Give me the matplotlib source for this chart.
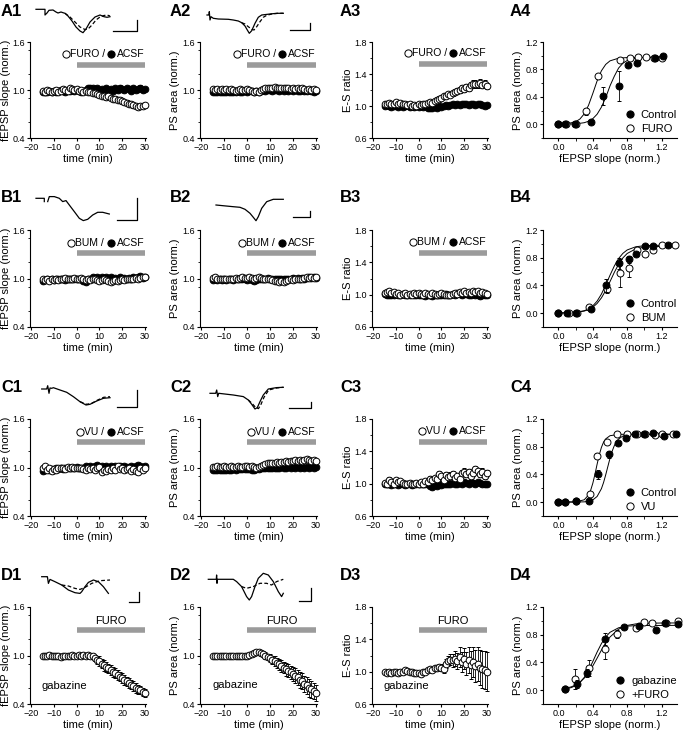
import matplotlib
matplotlib.use('Agg')
import numpy as np
import matplotlib.pyplot as plt
from matplotlib.ticker import MultipleLocator, FormatStrFormatter
from matplotlib.lines import Line2D
from matplotlib.transforms import offset_copy

plt.rcParams['font.family'] = ['Liberation Sans', 'DejaVu Sans']

# ---------------- data ----------------
time_min = list(range(-15, 31))

A1_furo = [0.99, 0.98, 1.00, 0.99, 0.97, 0.99, 1.00, 0.98, 0.99, 1.01, 1.00, 0.99, 1.02, 1.01, 1.00,
           1.01, 0.99, 1.00, 0.98, 0.99, 0.98, 0.97, 0.96, 0.96, 0.95, 0.94, 0.93, 0.93, 0.91, 0.92, 0.90,
           0.89, 0.89, 0.87, 0.88, 0.86, 0.85, 0.84, 0.83, 0.82, 0.81, 0.80, 0.79, 0.80, 0.80, 0.81]
A1_furo_err = [0.02, 0.01, 0.02, 0.02, 0.01, 0.02, 0.02, 0.01, 0.02, 0.02, 0.01, 0.02, 0.02, 0.01, 0.02,
               0.02, 0.02, 0.02, 0.02, 0.02, 0.02, 0.02, 0.02, 0.03, 0.02, 0.03, 0.02, 0.03, 0.03, 0.02, 0.03,
               0.03, 0.03, 0.02, 0.03, 0.03, 0.03, 0.03, 0.03, 0.03, 0.03, 0.03, 0.03, 0.03, 0.03, 0.03]
A1_acsf = [0.97, 0.98, 0.97, 0.99, 0.98, 0.99, 0.98, 0.99, 1.00, 0.99, 0.98, 1.00, 0.99, 1.00, 0.99,
           1.00, 0.99, 0.98, 0.99, 1.00, 1.02, 1.03, 1.02, 1.01, 1.02, 1.00, 1.01, 0.99, 1.02, 1.00, 1.01,
           0.99, 1.02, 1.00, 1.03, 1.01, 1.00, 1.02, 1.01, 0.99, 1.02, 1.00, 1.01, 1.03, 1.00, 1.01]
A1_acsf_err = [0.01, 0.01, 0.01, 0.01, 0.01, 0.01, 0.01, 0.01, 0.01, 0.01, 0.01, 0.01, 0.01, 0.01, 0.01,
               0.02, 0.02, 0.02, 0.02, 0.02, 0.02, 0.03, 0.02, 0.02, 0.02, 0.02, 0.02, 0.02, 0.03, 0.02, 0.02,
               0.02, 0.02, 0.02, 0.03, 0.02, 0.02, 0.02, 0.02, 0.02, 0.03, 0.02, 0.02, 0.03, 0.02, 0.02]

A2_furo = [1.01, 1.00, 1.01, 1.00, 1.01, 1.00, 1.01, 1.00, 1.01, 1.00, 0.99, 1.00, 1.01, 1.00, 1.00,
           1.01, 1.00, 0.99, 0.98, 0.99, 0.98, 1.00, 1.01, 1.02, 1.03, 1.02, 1.03, 1.04, 1.03, 1.02, 1.03,
           1.02, 1.03, 1.02, 1.01, 1.02, 1.01, 1.02, 1.01, 1.02, 1.01, 1.00, 1.01, 1.00, 1.01, 1.00]
A2_acsf = [0.98, 0.97, 0.98, 0.98, 0.97, 0.98, 0.98, 0.97, 0.98, 0.98, 0.98, 0.99, 0.98, 0.98, 0.99,
           0.98, 0.99, 0.99, 0.98, 0.99, 0.98, 0.99, 1.00, 0.99, 1.00, 1.00, 0.99, 1.00, 1.00, 0.99, 1.00,
           0.99, 1.00, 0.99, 1.00, 0.99, 1.00, 0.99, 0.99, 1.00, 0.99, 0.99, 1.00, 0.99, 0.98, 0.99]

A3_furo = [1.02, 1.03, 1.04, 1.02, 1.03, 1.05, 1.03, 1.04, 1.02, 1.03, 1.01, 1.02, 1.00, 1.01, 1.00,
           1.02, 1.01, 1.03, 1.02, 1.04, 1.05, 1.04, 1.06, 1.08, 1.09, 1.10, 1.12, 1.13, 1.15, 1.14, 1.16,
           1.18, 1.19, 1.20, 1.22, 1.21, 1.24, 1.23, 1.26, 1.27, 1.28, 1.27, 1.29, 1.26, 1.28, 1.25]
A3_furo_err = [0.02, 0.02, 0.02, 0.02, 0.02, 0.02, 0.02, 0.02, 0.02, 0.02, 0.02, 0.02, 0.02, 0.02, 0.02,
               0.02, 0.02, 0.02, 0.02, 0.02, 0.02, 0.02, 0.03, 0.03, 0.03, 0.03, 0.03, 0.03, 0.03, 0.03, 0.03,
               0.03, 0.03, 0.04, 0.04, 0.04, 0.04, 0.04, 0.04, 0.05, 0.05, 0.04, 0.05, 0.04, 0.05, 0.04]
A3_acsf = [1.00, 1.01, 1.00, 0.99, 1.00, 1.01, 0.99, 1.00, 0.99, 1.00, 1.01, 0.99, 1.00, 0.99, 1.00,
           0.99, 1.00, 0.99, 1.00, 0.98, 0.97, 0.98, 0.99, 0.98, 1.00, 0.99, 1.00, 1.01, 1.00, 1.01, 1.02,
           1.01, 1.02, 1.01, 1.03, 1.02, 1.02, 1.01, 1.03, 1.02, 1.01, 1.02, 1.03, 1.01, 1.00, 1.01]

B1_bum = [0.99, 0.98, 0.99, 0.97, 0.99, 0.98, 0.99, 0.98, 1.00, 0.99, 1.01, 1.00, 0.99, 1.00, 1.01,
          1.00, 0.99, 1.01, 1.00, 0.98, 0.99, 0.98, 1.00, 0.99, 0.98, 0.97, 0.98, 0.99, 0.98, 0.97, 0.96,
          0.97, 0.98, 0.97, 0.98, 0.99, 0.98, 0.99, 1.00, 0.99, 1.00, 1.01, 1.00, 1.01, 1.02, 1.02]
B1_acsf = [0.97, 0.98, 0.99, 0.98, 0.99, 0.98, 1.00, 0.99, 1.00, 0.99, 0.98, 1.00, 0.99, 1.00, 0.99,
           0.99, 1.00, 0.99, 0.97, 0.96, 0.99, 1.00, 1.02, 1.01, 1.02, 1.01, 1.02, 1.01, 1.02, 1.01, 1.02,
           1.00, 1.01, 1.00, 1.02, 1.00, 1.01, 1.00, 1.01, 1.00, 1.02, 1.01, 1.02, 1.03, 1.01, 1.02]

B2_bum = [1.01, 1.02, 1.00, 0.99, 1.00, 0.99, 0.99, 1.00, 0.99, 1.00, 1.01, 1.00, 1.01, 1.02, 1.01,
          1.01, 1.02, 1.01, 1.00, 1.01, 1.02, 1.01, 1.00, 0.99, 1.00, 0.99, 0.98, 0.97, 0.97, 0.96, 0.97,
          0.96, 0.97, 0.98, 0.99, 0.98, 0.99, 1.00, 0.99, 1.00, 1.01, 1.02, 1.01, 1.02, 1.01, 1.02]
B2_acsf = [0.98, 0.99, 0.98, 0.99, 0.98, 0.99, 0.98, 0.99, 0.99, 0.98, 0.99, 1.00, 0.99, 1.00, 0.99,
           0.98, 0.99, 0.98, 0.97, 0.98, 0.99, 1.00, 0.99, 1.00, 1.01, 1.00, 0.99, 1.00, 0.99, 1.00, 0.99,
           1.00, 1.00, 0.99, 1.00, 1.01, 1.00, 1.01, 1.00, 1.01, 1.00, 1.01, 1.02, 1.01, 1.02, 1.01]

B3_bum = [1.02, 1.03, 1.04, 1.02, 1.03, 1.01, 1.02, 1.00, 1.01, 1.02, 1.00, 1.01, 1.00, 1.02, 1.01,
          1.02, 1.01, 1.00, 1.02, 1.01, 1.00, 1.02, 1.01, 1.00, 1.01, 1.02, 1.01, 1.00, 0.99, 1.00, 1.01,
          1.02, 1.01, 1.03, 1.02, 1.04, 1.02, 1.03, 1.02, 1.04, 1.03, 1.04, 1.02, 1.03, 1.02, 1.01]
B3_acsf = [1.01, 0.99, 1.00, 0.99, 1.00, 1.01, 1.00, 0.99, 1.01, 1.00, 1.00, 0.99, 1.01, 1.00, 0.99,
           1.00, 0.99, 1.00, 0.98, 0.99, 1.00, 0.98, 0.99, 1.00, 0.99, 1.00, 0.99, 1.01, 1.00, 0.99, 1.01,
           1.00, 1.02, 1.01, 1.00, 1.02, 1.01, 1.00, 0.99, 1.01, 1.00, 0.99, 0.98, 1.00, 0.99, 1.00]

C1_vu = [0.99, 1.02, 0.97, 0.99, 0.96, 0.98, 0.97, 0.99, 1.00, 0.99, 0.98, 1.01, 1.00, 1.01, 0.99,
         1.00, 0.99, 1.00, 0.98, 0.97, 0.99, 0.98, 1.00, 0.97, 0.99, 1.01, 0.95, 0.97, 0.96, 0.98, 0.97,
         0.99, 0.97, 1.02, 0.98, 0.99, 0.97, 0.98, 1.00, 0.96, 0.98, 0.96, 0.95, 1.00, 0.97, 0.99]
C1_vu_err = [0.02, 0.02, 0.02, 0.02, 0.02, 0.02, 0.02, 0.02, 0.02, 0.02, 0.02, 0.02, 0.02, 0.02, 0.02,
             0.02, 0.02, 0.02, 0.02, 0.02, 0.03, 0.02, 0.03, 0.02, 0.03, 0.03, 0.03, 0.02, 0.03, 0.03, 0.02,
             0.03, 0.03, 0.03, 0.02, 0.03, 0.03, 0.03, 0.02, 0.03, 0.03, 0.03, 0.03, 0.03, 0.03, 0.03]
C1_acsf = [0.96, 0.97, 0.98, 0.97, 0.98, 0.97, 0.99, 0.98, 0.99, 0.98, 1.00, 0.99, 1.00, 0.99, 1.00,
           1.01, 1.00, 0.99, 1.00, 1.02, 1.01, 1.02, 1.01, 1.02, 1.03, 1.01, 1.02, 1.01, 1.02, 1.00, 1.02,
           1.01, 1.02, 1.01, 1.02, 1.01, 1.02, 1.01, 1.00, 1.02, 1.01, 1.02, 1.03, 1.02, 1.01, 1.02]

C2_vu = [1.01, 1.01, 1.02, 1.01, 1.01, 1.02, 1.01, 1.01, 1.02, 1.01, 1.01, 1.02, 1.01, 1.01, 1.02,
         1.02, 1.01, 1.02, 1.01, 1.00, 1.01, 1.02, 1.03, 1.04, 1.05, 1.05, 1.06, 1.06, 1.07, 1.06, 1.07,
         1.07, 1.08, 1.07, 1.08, 1.08, 1.09, 1.08, 1.09, 1.08, 1.09, 1.10, 1.09, 1.08, 1.09, 1.08]
C2_acsf = [0.97, 0.97, 0.97, 0.97, 0.97, 0.97, 0.97, 0.97, 0.97, 0.98, 0.97, 0.98, 0.98, 0.98, 0.98,
           0.98, 0.98, 0.97, 0.97, 0.98, 0.98, 0.99, 0.99, 0.99, 1.00, 0.99, 1.00, 1.00, 1.00, 1.00, 1.01,
           1.00, 1.00, 1.01, 1.00, 1.01, 1.00, 1.01, 1.00, 1.01, 1.00, 1.01, 1.00, 1.01, 1.00, 1.01]

C3_vu = [1.01, 0.99, 1.05, 1.02, 1.00, 1.04, 1.02, 1.03, 1.01, 1.00, 0.99, 1.01, 1.00, 0.99, 1.01,
         1.00, 1.02, 0.99, 1.03, 1.02, 1.06, 1.05, 1.07, 1.06, 1.12, 1.10, 1.05, 1.11, 1.08, 1.10, 1.12,
         1.07, 1.09, 1.06, 1.13, 1.15, 1.12, 1.14, 1.10, 1.13, 1.18, 1.16, 1.12, 1.15, 1.10, 1.13]
C3_vu_err = [0.02, 0.02, 0.03, 0.02, 0.02, 0.03, 0.02, 0.02, 0.02, 0.02, 0.02, 0.02, 0.02, 0.02, 0.02,
             0.02, 0.02, 0.02, 0.03, 0.02, 0.03, 0.03, 0.03, 0.03, 0.04, 0.03, 0.03, 0.04, 0.03, 0.04, 0.04,
             0.03, 0.04, 0.03, 0.04, 0.04, 0.04, 0.04, 0.03, 0.04, 0.04, 0.04, 0.04, 0.04, 0.04, 0.04]
C3_acsf = [1.00, 1.00, 0.99, 0.98, 1.00, 1.01, 0.98, 0.99, 1.00, 0.98, 0.99, 1.00, 0.98, 0.99, 1.00,
           0.99, 1.00, 0.99, 1.00, 0.99, 0.97, 0.96, 0.98, 0.97, 0.99, 0.98, 0.99, 1.00, 0.99, 1.00, 1.01,
           1.00, 0.99, 1.01, 1.00, 1.02, 1.01, 1.00, 1.02, 1.01, 1.00, 1.02, 1.01, 0.99, 1.00, 1.00]

D1_furo = [1.00, 0.99, 1.00, 1.01, 1.00, 0.99, 1.00, 0.99, 0.98, 1.00, 0.99, 1.00, 1.00, 1.01, 1.00,
           1.00, 1.01, 1.00, 1.01, 1.00, 1.01, 1.00, 0.99, 0.97, 0.95, 0.93, 0.90, 0.88, 0.86, 0.84, 0.82,
           0.80, 0.78, 0.76, 0.74, 0.72, 0.70, 0.68, 0.66, 0.64, 0.62, 0.60, 0.58, 0.57, 0.55, 0.54]
D1_err = [0.01, 0.01, 0.01, 0.01, 0.01, 0.01, 0.01, 0.01, 0.01, 0.01, 0.01, 0.01, 0.01, 0.01, 0.01,
          0.01, 0.01, 0.02, 0.02, 0.02, 0.02, 0.03, 0.03, 0.04, 0.05, 0.06, 0.06, 0.07, 0.06, 0.06, 0.06,
          0.06, 0.06, 0.06, 0.06, 0.06, 0.06, 0.06, 0.06, 0.06, 0.06, 0.06, 0.06, 0.05, 0.05, 0.05]
D2_furo = [1.00, 0.99, 1.00, 0.99, 1.00, 1.00, 0.99, 1.00, 1.00, 1.00, 0.99, 1.00, 1.00, 1.00, 1.00,
           1.00, 1.01, 1.02, 1.03, 1.04, 1.04, 1.03, 1.02, 1.00, 0.98, 0.97, 0.95, 0.93, 0.91, 0.89, 0.87,
           0.85, 0.83, 0.81, 0.79, 0.77, 0.75, 0.73, 0.70, 0.68, 0.65, 0.63, 0.60, 0.58, 0.56, 0.54]
D2_err = [0.01, 0.01, 0.01, 0.01, 0.01, 0.01, 0.01, 0.01, 0.01, 0.01, 0.01, 0.01, 0.01, 0.01, 0.01,
          0.01, 0.01, 0.01, 0.02, 0.02, 0.02, 0.03, 0.03, 0.04, 0.04, 0.05, 0.05, 0.06, 0.06, 0.07, 0.07,
          0.07, 0.08, 0.08, 0.08, 0.09, 0.09, 0.09, 0.10, 0.10, 0.10, 0.11, 0.11, 0.11, 0.10, 0.10]
D3_furo = [1.00, 0.98, 0.99, 0.98, 1.00, 0.99, 0.98, 0.99, 1.00, 1.02, 1.01, 1.00, 0.99, 0.98, 0.98,
           0.98, 0.97, 0.99, 1.00, 1.02, 1.03, 1.02, 1.04, 1.05, 1.06, 1.05, 1.03, 1.10, 1.13, 1.15, 1.14,
           1.16, 1.13, 1.18, 1.12, 1.16, 1.10, 1.14, 1.08, 1.12, 1.07, 1.10, 1.05, 1.03, 1.02, 1.00]
D3_err = [0.01, 0.01, 0.01, 0.01, 0.01, 0.01, 0.01, 0.01, 0.01, 0.01, 0.01, 0.01, 0.01, 0.01, 0.01,
          0.01, 0.01, 0.02, 0.02, 0.02, 0.02, 0.03, 0.03, 0.03, 0.04, 0.04, 0.05, 0.06, 0.06, 0.07, 0.08,
          0.09, 0.10, 0.12, 0.12, 0.13, 0.14, 0.16, 0.17, 0.18, 0.20, 0.21, 0.22, 0.23, 0.24, 0.24]

# input-output panels
A4_ctrl_x = [0.0, 0.08, 0.19, 0.38, 0.52, 0.71, 0.81, 0.91, 1.12, 1.22]
A4_ctrl_y = [0.0, 0.0, 0.01, 0.04, 0.41, 0.56, 0.87, 0.90, 0.97, 0.99]
A4_ctrl_err = [0, 0, 0, 0.01, 0.13, 0.22, 0.03, 0.02, 0.01, 0.01]
A4_furo_x = [0.0, 0.09, 0.2, 0.32, 0.46, 0.72, 0.83, 0.93, 1.02, 1.11, 1.21]
A4_furo_y = [0.0, 0.01, 0.01, 0.19, 0.70, 0.94, 0.96, 0.98, 0.98, 0.97, 0.97]
A4_furo_err = [0, 0, 0, 0.05, 0.04, 0.02, 0.01, 0.01, 0.01, 0.01, 0.01]
A4_fit_furo_x = [0.0, 0.1, 0.2, 0.25, 0.3, 0.35, 0.4, 0.45, 0.5, 0.55, 0.6, 0.7, 0.8, 1.0, 1.22]
A4_fit_furo_y = [0.002, 0.008, 0.037, 0.077, 0.152, 0.277, 0.45, 0.633, 0.78, 0.873, 0.925, 0.964, 0.973, 0.975, 0.975]
A4_fit_ctrl_x = [0.0, 0.2, 0.3, 0.35, 0.4, 0.45, 0.5, 0.55, 0.6, 0.65, 0.7, 0.75, 0.8, 0.9, 1.0, 1.22]
A4_fit_ctrl_y = [0.0, 0.006, 0.023, 0.044, 0.082, 0.147, 0.25, 0.39, 0.56, 0.70, 0.82, 0.89, 0.93, 0.966, 0.976, 0.98]

B4_ctrl_x = [0.0, 0.1, 0.2, 0.38, 0.55, 0.71, 0.82, 0.9, 1.01, 1.1, 1.28]
B4_ctrl_y = [0.0, 0.0, 0.0, 0.06, 0.40, 0.72, 0.78, 0.86, 0.97, 0.97, 0.98]
B4_ctrl_err = [0, 0, 0, 0.01, 0.10, 0.08, 0.05, 0.02, 0.02, 0.02, 0.01]
B4_bum_x = [0.0, 0.12, 0.21, 0.36, 0.56, 0.72, 0.82, 0.92, 1.01, 1.1, 1.21, 1.36]
B4_bum_y = [0.0, 0.0, 0.0, 0.09, 0.35, 0.58, 0.65, 0.91, 0.86, 0.91, 0.99, 0.98]
B4_bum_err = [0, 0, 0, 0.01, 0.06, 0.20, 0.13, 0.02, 0.04, 0.02, 0.01, 0.01]
B4_fit_ctrl_x = [0.0, 0.2, 0.3, 0.35, 0.4, 0.45, 0.5, 0.55, 0.6, 0.65, 0.7, 0.75, 0.8, 0.9, 1.0, 1.1, 1.3]
B4_fit_ctrl_y = [0.001, 0.011, 0.035, 0.062, 0.105, 0.174, 0.275, 0.405, 0.547, 0.68, 0.788, 0.863, 0.912, 0.958, 0.973, 0.978, 0.98]
B4_fit_bum_x = [0.0, 0.2, 0.3, 0.35, 0.4, 0.45, 0.5, 0.55, 0.6, 0.65, 0.7, 0.75, 0.8, 0.9, 1.0, 1.1, 1.35]
B4_fit_bum_y = [0.001, 0.010, 0.030, 0.051, 0.085, 0.14, 0.22, 0.327, 0.455, 0.588, 0.705, 0.797, 0.861, 0.928, 0.952, 0.96, 0.965]

C4_ctrl_x = [0.0, 0.08, 0.2, 0.35, 0.46, 0.59, 0.69, 0.79, 0.89, 0.99, 1.1, 1.23, 1.37]
C4_ctrl_y = [0.0, 0.0, 0.01, 0.02, 0.40, 0.69, 0.86, 0.93, 0.98, 0.98, 1.0, 0.96, 0.98]
C4_ctrl_err = [0, 0, 0, 0.01, 0.07, 0.05, 0.02, 0.02, 0.01, 0.01, 0.01, 0.01, 0.01]
C4_vu_x = [0.0, 0.08, 0.2, 0.37, 0.45, 0.57, 0.68, 0.8, 0.92, 1.01, 1.12, 1.21, 1.33]
C4_vu_y = [0.0, 0.0, 0.01, 0.12, 0.67, 0.87, 0.98, 0.98, 0.98, 0.98, 0.97, 0.98, 0.98]
C4_vu_err = [0, 0, 0, 0.01, 0.04, 0.02, 0.01, 0.01, 0.01, 0.01, 0.01, 0.01, 0.01]
C4_fit_vu_x = [0.0, 0.2, 0.3, 0.35, 0.375, 0.4, 0.425, 0.45, 0.475, 0.5, 0.525, 0.55, 0.6, 0.7, 0.8, 1.4]
C4_fit_vu_y = [0.0, 0.003, 0.034, 0.103, 0.172, 0.273, 0.403, 0.548, 0.683, 0.79, 0.866, 0.913, 0.959, 0.978, 0.98, 0.98]
C4_fit_ctrl_x = [0.0, 0.3, 0.35, 0.4, 0.45, 0.5, 0.525, 0.55, 0.575, 0.6, 0.625, 0.65, 0.675, 0.7, 0.75, 0.8, 0.9, 1.4]
C4_fit_ctrl_y = [0.0, 0.004, 0.012, 0.032, 0.082, 0.194, 0.283, 0.394, 0.514, 0.633, 0.735, 0.815, 0.873, 0.912, 0.954, 0.97, 0.978, 0.98]

D4_gab_x = [0.08, 0.21, 0.33, 0.54, 0.76, 0.94, 1.14, 1.24, 1.39]
D4_gab_y = [0.01, 0.09, 0.25, 0.74, 0.91, 0.92, 0.87, 0.97, 0.95]
D4_gab_err = [0.01, 0.06, 0.06, 0.09, 0.02, 0.02, 0.01, 0.02, 0.03]
D4_furo_x = [0.08, 0.19, 0.35, 0.54, 0.68, 0.90, 0.99, 1.09, 1.25, 1.39]
D4_furo_y = [0.01, 0.16, 0.32, 0.60, 0.81, 0.90, 0.98, 0.97, 0.97, 1.00]
D4_furo_err = [0.0, 0.14, 0.12, 0.15, 0.06, 0.02, 0.02, 0.02, 0.02, 0.02]
D4_fit_gab_x = [0.08, 0.15, 0.2, 0.25, 0.3, 0.35, 0.4, 0.45, 0.5, 0.55, 0.6, 0.7, 0.8, 0.9, 1.0, 1.4]
D4_fit_gab_y = [0.017, 0.037, 0.065, 0.111, 0.183, 0.285, 0.413, 0.55, 0.672, 0.768, 0.835, 0.90, 0.924, 0.931, 0.933, 0.935]
D4_fit_furo_x = [0.08, 0.15, 0.2, 0.25, 0.3, 0.35, 0.4, 0.45, 0.5, 0.55, 0.6, 0.7, 0.8, 0.9, 1.0, 1.2, 1.4]
D4_fit_furo_y = [0.025, 0.048, 0.075, 0.115, 0.174, 0.252, 0.35, 0.462, 0.577, 0.683, 0.767, 0.88, 0.934, 0.956, 0.964, 0.969, 0.97]

# example traces (local px, y downward)
trA1_sol_x = [0, 9, 9, 11, 13, 17, 20, 22, 25, 27, 29, 32, 36, 40, 44, 47, 50, 54, 59, 64, 68, 71, 74]
trA1_sol_y = [0, 0, 5.7, 3.7, 1, 0.7, 2.7, 3.7, 2.7, 3.4, 4, 6.7, 11.7, 17.7, 21.7, 23.4, 19.7, 12.7, 7.7, 5.7, 7.4, 8, 7.4]
trA1_das_x = [29, 34, 39, 44, 49, 52, 56, 60, 64, 68, 71, 74]
trA1_das_y = [4, 7.7, 12.7, 17.7, 20.2, 19.7, 15.7, 10.7, 7.7, 6.2, 5.7, 6.7]
trA2_sol_x = [0, 2, 2.3, 3, 4, 6.3, 11.3, 21.3, 26.3, 31.3, 34.7, 38, 40.3, 42.3, 44.7, 48, 51.3, 54.7, 63, 69.7, 76.3]
trA2_sol_y = [0, 0, -3.3, 5, 1.7, 3.3, 4, 4.3, 5, 6, 7.7, 11, 15, 18.3, 15.7, 8.3, 2.3, 0, -1, -1.7, -1.7]
trA2_das_x = [34.7, 38, 41.3, 44.7, 47, 49.7, 53, 56.3, 59.7, 64.7, 71.3, 76.3]
trA2_das_y = [7.7, 9, 11.7, 14.3, 15, 11.7, 6.7, 2.3, 0.3, -1, -1.7, -1.7]
trB1_sol_x = [0, 8.3, 8.3, None, 11.7, 13.3, 18.3, 23.3, 26.7, 30, 33.3, 38.3, 43.3, 47.3, 51.7, 56.7, 61.7, 66.7, 73.3]
trB1_sol_y = [0, 0, 3.3, None, 3.3, -1.7, -1.7, 0, 3.3, 2.3, 6.7, 13.3, 20, 22.3, 21, 16.7, 14, 14, 15.7]
trB2_sol_x = [0, 8, 17.3, 24, 29, 34, 37.3, 40, 42.3, 45.7, 50.7, 57.3, 67.3]
trB2_sol_y = [0, 0.8, 1.7, 2.3, 4.3, 8.3, 12.3, 15.7, 11.7, 3.3, -3.3, -5.7, -5.7]
trC1_sol_x = [0, 5, 6, 7.3, 8.3, 10, 11.7, 18.3, 25, 31.7, 38.3, 44.3, 48.3, 55, 61.7, 68.3]
trC1_sol_y = [0, 0, -3.3, 4.3, -1, -0.7, -1.3, 1, 3.3, 7.7, 12.7, 16, 15.3, 12, 9.3, 8.7]
trC1_das_x = [38.3, 45, 50, 56, 62, 68.3]
trC1_das_y = [12.7, 15.3, 14.3, 11, 8.3, 7.7]
trC2_sol_x = [0, 5.7, 6.7, 7.7, 8.7, 23.3, 33.3, 38.3, 41.7, 45, 47.3, 50, 53.3, 58.3, 66.7, 73.3]
trC2_sol_y = [0, 0, -3.3, 3.3, 0, 1.7, 3.3, 6.7, 11, 15.7, 14.3, 8.3, 1.7, -4.3, -5.7, -6]
trC2_das_x = [38.3, 42, 45.5, 48.5, 51, 54, 58.7, 66.7, 73.3]
trC2_das_y = [6.7, 10, 14, 15.3, 11, 4, -3.3, -5.3, -6]
trD1_sol_x = [0, 5, 5.7, 6.7, 8.3, 13.3, 20, 26.7, 33.3, 38.3, 40, 43.3, 46.7, 51.7, 56.7, 61.7, 66.7]
trD1_sol_y = [0, 0, 0, 6.7, 2.7, 5, 8.3, 13.3, 16, 16.7, 15, 10, 5.7, 3.3, 5, 10, 16.7]
trD1_das_x = [20, 26.7, 33.3, 38.3, 43.3, 50, 58.3, 68.3]
trD1_das_y = [8.3, 9.3, 11.7, 12.7, 10.7, 6.7, 4, 3.3]
trD2_sol_x = [0, 8, 8.3, 8.7, 9, 25, 28.3, 33.3, 38.3, 41, 43.3, 46.7, 50, 55, 60, 65, 70, 73.3, 75]
trD2_sol_y = [0, 0, -4.3, 4, 0, 0, 2.3, 7.3, 17.3, 20.7, 17.3, 7.3, -1, -6, -4.3, 2.3, 12.3, 17.3, 14]
trD2_das_x = [33.3, 38.3, 45, 51.7, 58.3, 63.3, 68.3, 75]
trD2_das_y = [7.3, 9, 7.3, 4, 4, 5.7, 2.3, 0]

# ---------------- layout ----------------
W, H = 683, 733
fig = plt.figure(figsize=(W / 100, H / 100), dpi=100)

cols = [(30, 146), (200, 317), (372, 488), (543, 677)]
rows = [(42, 138), (230, 327), (419, 516), (607, 704)]
ylabel_x = [-0.165, -0.172, -0.165, -0.15]
BAR = '#9b9b9b'
PX = 0.72  # points per pixel at dpi 100
LEG_FS = 7.5


def make_ax(r, c):
    x0, x1 = cols[c]
    y0, y1 = rows[r]
    ax = fig.add_axes([x0 / W, 1 - y1 / H, (x1 - x0) / W, (y1 - y0) / H])
    for s in ['top', 'right']:
        ax.spines[s].set_visible(False)
    for s in ['left', 'bottom']:
        ax.spines[s].set_linewidth(0.8)
    ax.tick_params(which='major', direction='out', length=2.5, width=0.8, labelsize=6.5, pad=1.2)
    ax.tick_params(which='minor', direction='out', length=1.8, width=0.6)
    ax.patch.set_alpha(0)
    return ax


def set_ylab(ax, c, text):
    ax.set_ylabel(text, fontsize=8)
    ax.yaxis.set_label_coords(ylabel_x[c], 0.5)


def time_ax(ax, kind, c):
    ax.set_xlim(-20.5, 30.5)
    ax.set_xticks([-20, -10, 0, 10, 20, 30])
    if kind == 'es':
        ax.set_ylim(0.6, 1.8)
        ax.set_yticks([0.6, 1.0, 1.4, 1.8])
        ax.yaxis.set_minor_locator(MultipleLocator(0.2))
        set_ylab(ax, c, 'E-S ratio')
    else:
        ax.set_ylim(0.4, 1.6)
        ax.set_yticks([0.4, 1.0, 1.6])
        ax.yaxis.set_minor_locator(MultipleLocator(0.3))
        set_ylab(ax, c, 'fEPSP slope (norm.)' if kind == 'slope' else 'PS area (norm.)')
    ax.yaxis.set_major_formatter(FormatStrFormatter('%.1f'))
    ax.set_xlabel('time (min)', fontsize=8, labelpad=1)


def series(ax, y, err=None, filled=False):
    ax.errorbar(time_min, y, yerr=err, fmt='o', ms=4.8, mfc='k' if filled else 'white',
                mec='k', mew=0.7, ecolor='k', elinewidth=0.6, capsize=1.2, capthick=0.6,
                zorder=3 if filled else 4, clip_on=False)


def io_ax(ax, c):
    ax.set_xlim(-0.18, 1.38)
    ax.set_ylim(-0.2, 1.2)
    ax.set_xticks([0.0, 0.4, 0.8, 1.2])
    ax.set_yticks([0.0, 0.4, 0.8, 1.2])
    ax.xaxis.set_minor_locator(MultipleLocator(0.2))
    ax.yaxis.set_minor_locator(MultipleLocator(0.2))
    ax.xaxis.set_major_formatter(FormatStrFormatter('%.1f'))
    ax.yaxis.set_major_formatter(FormatStrFormatter('%.1f'))
    ax.set_xlabel('fEPSP slope (norm.)', fontsize=8, labelpad=1)
    set_ylab(ax, c, 'PS area (norm.)')


def io_pts(ax, x, y, err, filled):
    ax.errorbar(x, y, yerr=err, fmt='o', ms=5, mfc='k' if filled else 'white', mec='k', mew=0.7,
                ecolor='k', elinewidth=0.6, capsize=1.5, capthick=0.6, zorder=4 if filled else 3,
                clip_on=False)


def io_legend(ax, labels):
    h = [Line2D([], [], ls='none', marker='o', ms=5.2, mfc='k', mec='k', mew=0.7),
         Line2D([], [], ls='none', marker='o', ms=5.2, mfc='white', mec='k', mew=0.7)]
    ax.legend(h, labels, loc='lower right', bbox_to_anchor=(1.0, 0.04), frameon=False, fontsize=8,
              handlelength=0.8, handletextpad=0.6, labelspacing=0.35, borderpad=0, borderaxespad=0)


def drug_bar(ax, ybar, ytxt, drug, paired, open_off=79):
    ax.plot([0, 30], [ybar, ybar], color=BAR, lw=4, solid_capstyle='butt', zorder=2)
    if not paired:
        ax.text(15, ytxt, drug, ha='center', va='center', fontsize=8)
        return
    # "(open) DRUG / (filled) ACSF", right-aligned at the end of the bar
    ax.text(30, ytxt, 'ACSF', ha='right', va='center', fontsize=LEG_FS)
    t_f = offset_copy(ax.transData, fig=fig, x=-34 * PX, units='points')
    ax.plot([30], [ytxt], 'o', ms=5.2, mfc='k', mec='k', mew=0.7, transform=t_f, clip_on=False)
    t_o = offset_copy(ax.transData, fig=fig, x=-open_off * PX, units='points')
    ax.plot([30], [ytxt], 'o', ms=5.2, mfc='white', mec='k', mew=0.7, transform=t_o, clip_on=False)
    t_txt = offset_copy(ax.transData, fig=fig, x=-(open_off - 4.5) * PX, units='points')
    ax.text(30, ytxt, drug + ' /', ha='left', va='center', fontsize=LEG_FS, transform=t_txt)


# Row A
ax = make_ax(0, 0); time_ax(ax, 'slope', 0)
series(ax, A1_acsf, A1_acsf_err, True); series(ax, A1_furo, A1_furo_err)
drug_bar(ax, 1.31, 1.45, 'FURO', True, 79)
ax = make_ax(0, 1); time_ax(ax, 'area', 1)
series(ax, A2_acsf, None, True); series(ax, A2_furo)
drug_bar(ax, 1.31, 1.45, 'FURO', True, 79)
ax = make_ax(0, 2); time_ax(ax, 'es', 2)
series(ax, A3_acsf, None, True); series(ax, A3_furo, A3_furo_err)
drug_bar(ax, 1.52, 1.66, 'FURO', True, 79)
ax = make_ax(0, 3); io_ax(ax, 3)
ax.plot(A4_fit_furo_x, A4_fit_furo_y, color='k', lw=0.7)
ax.plot(A4_fit_ctrl_x, A4_fit_ctrl_y, color='k', lw=0.7)
io_pts(ax, A4_furo_x, A4_furo_y, A4_furo_err, False)
io_pts(ax, A4_ctrl_x, A4_ctrl_y, A4_ctrl_err, True)
io_legend(ax, ['Control', 'FURO'])

# Row B
ax = make_ax(1, 0); time_ax(ax, 'slope', 0)
series(ax, B1_acsf, None, True); series(ax, B1_bum)
drug_bar(ax, 1.31, 1.44, 'BUM', True, 74)
ax = make_ax(1, 1); time_ax(ax, 'area', 1)
series(ax, B2_acsf, None, True); series(ax, B2_bum)
drug_bar(ax, 1.31, 1.44, 'BUM', True, 74)
ax = make_ax(1, 2); time_ax(ax, 'es', 2)
series(ax, B3_acsf, None, True); series(ax, B3_bum)
drug_bar(ax, 1.52, 1.65, 'BUM', True, 74)
ax = make_ax(1, 3); io_ax(ax, 3)
ax.plot(B4_fit_bum_x, B4_fit_bum_y, color='k', lw=0.7)
ax.plot(B4_fit_ctrl_x, B4_fit_ctrl_y, color='k', lw=0.7)
io_pts(ax, B4_bum_x, B4_bum_y, B4_bum_err, False)
io_pts(ax, B4_ctrl_x, B4_ctrl_y, B4_ctrl_err, True)
io_legend(ax, ['Control', 'BUM'])

# Row C
ax = make_ax(2, 0); time_ax(ax, 'slope', 0)
series(ax, C1_acsf, None, True); series(ax, C1_vu, C1_vu_err)
drug_bar(ax, 1.31, 1.44, 'VU', True, 65)
ax = make_ax(2, 1); time_ax(ax, 'area', 1)
series(ax, C2_acsf, None, True); series(ax, C2_vu)
drug_bar(ax, 1.31, 1.44, 'VU', True, 65)
ax = make_ax(2, 2); time_ax(ax, 'es', 2)
series(ax, C3_acsf, None, True); series(ax, C3_vu, C3_vu_err)
drug_bar(ax, 1.52, 1.65, 'VU', True, 65)
ax = make_ax(2, 3); io_ax(ax, 3)
ax.plot(C4_fit_vu_x, C4_fit_vu_y, color='k', lw=0.7)
ax.plot(C4_fit_ctrl_x, C4_fit_ctrl_y, color='k', lw=0.7)
io_pts(ax, C4_vu_x, C4_vu_y, C4_vu_err, False)
io_pts(ax, C4_ctrl_x, C4_ctrl_y, C4_ctrl_err, True)
io_legend(ax, ['Control', 'VU'])

# Row D
ax = make_ax(3, 0); time_ax(ax, 'slope', 0)
series(ax, D1_furo, D1_err)
drug_bar(ax, 1.32, 1.43, 'FURO', False)
ax.text(-15.5, 0.62, 'gabazine', fontsize=8, va='center')
ax = make_ax(3, 1); time_ax(ax, 'area', 1)
series(ax, D2_furo, D2_err)
drug_bar(ax, 1.32, 1.43, 'FURO', False)
ax.text(-15, 0.64, 'gabazine', fontsize=8, va='center')
ax = make_ax(3, 2); time_ax(ax, 'es', 2)
series(ax, D3_furo, D3_err)
drug_bar(ax, 1.52, 1.63, 'FURO', False)
ax.text(-15.5, 0.82, 'gabazine', fontsize=8, va='center')
ax = make_ax(3, 3); io_ax(ax, 3)
ax.plot(D4_fit_gab_x, D4_fit_gab_y, color='k', lw=0.7)
ax.plot(D4_fit_furo_x, D4_fit_furo_y, color='k', lw=0.7)
io_pts(ax, D4_furo_x, D4_furo_y, D4_furo_err, False)
io_pts(ax, D4_gab_x, D4_gab_y, D4_gab_err, True)
io_legend(ax, ['gabazine', '+FURO'])

# ---------------- overlay: traces, scale bars, panel labels ----------------
ov = fig.add_axes([0, 0, 1, 1])
ov.set_xlim(0, W)
ov.set_ylim(H, 0)
ov.axis('off')


def trace(ox, oy, xs, ys, dashed=False):
    px = np.array([np.nan if v is None else ox + v for v in xs], float)
    py = np.array([np.nan if v is None else oy + v for v in ys], float)
    ov.plot(px, py, color='k', lw=0.9, ls=(0, (3, 1.8)) if dashed else '-')


def scalebar(xr, yt, yb, xl):
    ov.plot([xl, xr, xr], [yb, yb, yt], color='k', lw=0.9)


trace(36, 9.3, trA1_sol_x, trA1_sol_y); trace(36, 9.3, trA1_das_x, trA1_das_y, True)
scalebar(137.3, 20, 30.7, 113)
trace(207, 15, trA2_sol_x, trA2_sol_y); trace(207, 15, trA2_das_x, trA2_das_y, True)
scalebar(310, 22.7, 30, 290)
trace(36, 198.3, trB1_sol_x, trB1_sol_y)
scalebar(137.3, 198.3, 220, 116.7)
trace(216, 205, trB2_sol_x, trB2_sol_y)
scalebar(310, 210.7, 217.3, 293.3)
trace(41.7, 389, trC1_sol_x, trC1_sol_y); trace(41.7, 389, trC1_das_x, trC1_das_y, True)
scalebar(137.3, 390, 406.7, 117.3)
trace(210, 393.3, trC2_sol_x, trC2_sol_y); trace(210, 393.3, trC2_das_x, trC2_das_y, True)
scalebar(310.7, 401.7, 408.3, 289.3)
trace(41.7, 576.7, trD1_sol_x, trD1_sol_y); trace(41.7, 576.7, trD1_das_x, trD1_das_y, True)
scalebar(139.3, 591.7, 601.7, 129.3)
trace(208.3, 579.3, trD2_sol_x, trD2_sol_y); trace(208.3, 579.3, trD2_das_x, trD2_das_y, True)
scalebar(310.7, 588.3, 600.7, 299.3)

label_rows = [('A', 12), ('B', 197), ('C', 387), ('D', 575)]
label_cols = [1, 170, 340, 510]
for letter, ly in label_rows:
    for i, lx in enumerate(label_cols):
        ov.text(lx, ly, f'{letter}{i + 1}', fontsize=12, fontweight='bold', va='center', ha='left')

fig.savefig('out.png', dpi=100)
